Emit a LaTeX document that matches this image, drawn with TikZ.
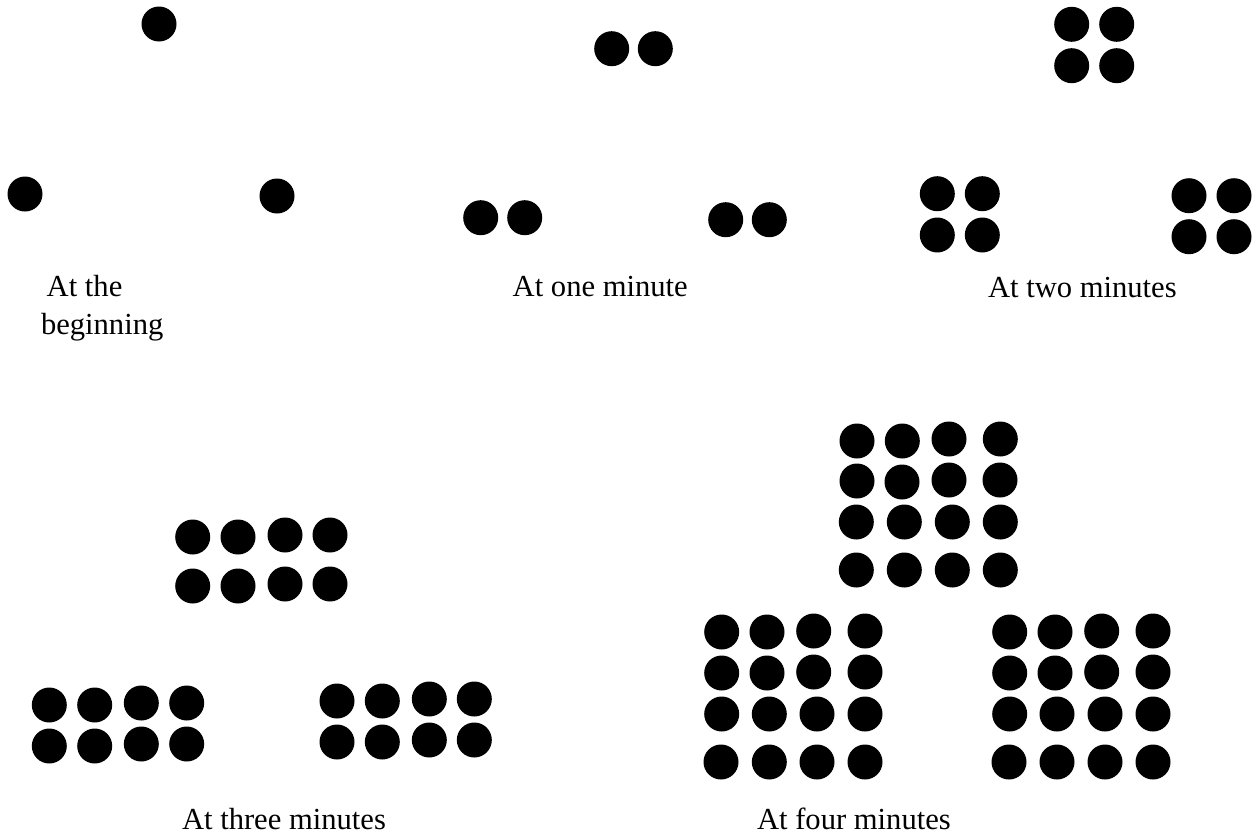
\documentclass[tikz,border=0pt]{standalone}
\usepackage{fontspec}
\setmainfont{Liberation Serif}
\begin{document}
\begin{tikzpicture}[x=1pt,y=-1pt,
  dot/.style={fill=black},
  lbl/.style={anchor=base west,inner sep=0pt,outer sep=0pt,font=\fontsize{30.6}{37}\selectfont}]
\useasboundingbox (0,0) rectangle (1255,835);
% dots
\foreach \p in {
  {159,24},{25,194},{277,196},
  {611.7,48.7},{655.3,48.7},{480.7,217.7},{524.7,217.7},{725.7,219.7},{769.3,219.7},
  {1071.7,24.3},{1116.7,24.3},{1071.7,65.7},{1116.7,65.7},
  {937.3,193.7},{982.3,193.7},{937.3,235},{982.3,235},
  {1189,195.7},{1234,195.7},{1189,236.7},{1234,236.7},
  {192.7,537},{238,537},{285,535},{330,535},{192.7,586},{238,586},{285,584},{330,584},
  {49.3,705},{94.7,705},{141.3,703},{186.7,703},{49.3,746},{94.7,746},{141.3,744},{186.7,744},
  {337,701},{382.3,701},{429.3,699},{474.3,699},{337,742},{382.3,742},{429.3,740},{474.3,740},
  {857,441},{902.3,441},{949,439},{1000.3,439},
  {857,481},{902,482},{949,480},{1000,480},
  {856.3,522},{904.3,522},{952.3,522},{1000.3,522},
  {856.3,570},{904.3,570},{952.3,570},{1000.3,570},
  {721.7,632},{767,632},{813.7,631},{865,631},
  {721.7,673},{767,673},{813.7,672},{865,672},
  {721.7,714},{769.3,714},{817,714},{865,714},
  {721,762},{769.3,762},{817,762},{865,762},
  {1009.7,632},{1055,632},{1101.7,631},{1153,631},
  {1009.7,673},{1055,673},{1101.7,672},{1153,672},
  {1009.7,714},{1057,714},{1105,714},{1153,714},
  {1009,762},{1057,762},{1105,762},{1153,762}}
  {\fill[dot] (\p) circle[radius=17.5pt];}
% labels
\node[lbl] (t0a) at (46.7,296.7) {At the};
\node[lbl] (t0b) at (41,334) {beginning};
\node[lbl] (t1) at (512.7,296.7) {At one minute};
\node[lbl] (t2) at (988,297) {At two minutes};
\node[lbl] (t3) at (182,829) {At three minutes};
\node[lbl] (t4) at (757,829) {At four minutes};
\end{tikzpicture}
\end{document}
